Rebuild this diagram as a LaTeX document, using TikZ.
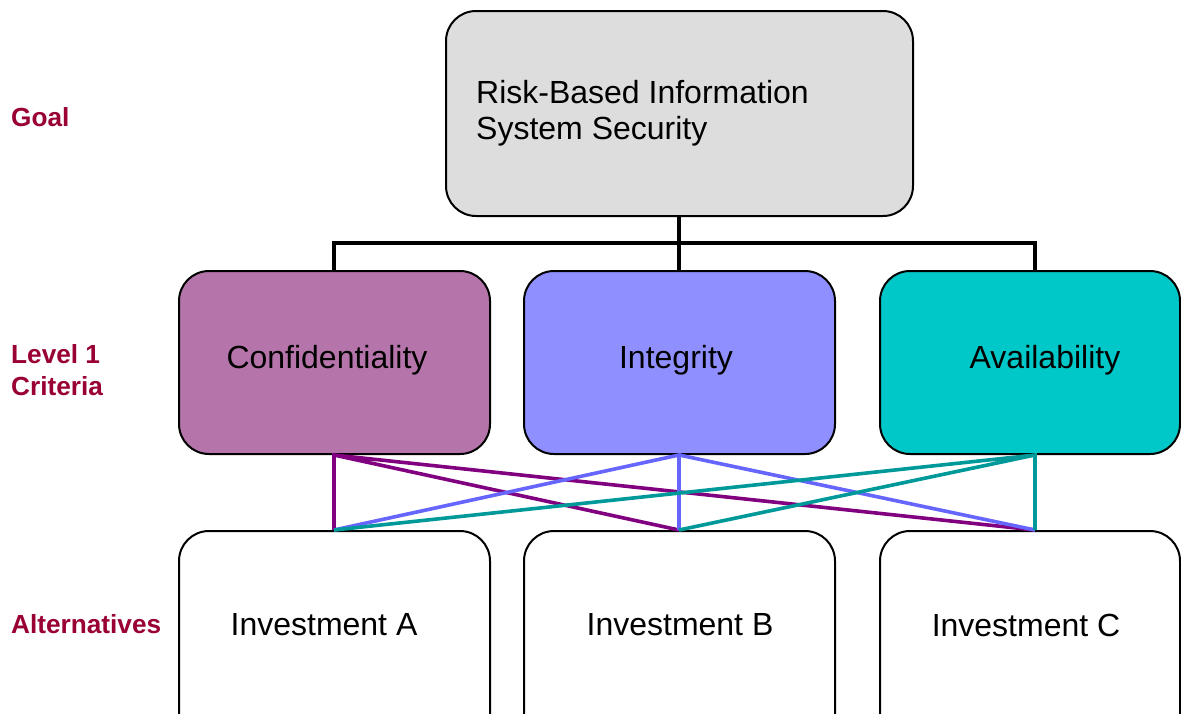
\documentclass[tikz,border=0pt]{standalone}
\usepackage{fontspec}
\setmainfont{Liberation Sans}
\definecolor{lblred}{HTML}{990033}
\definecolor{goalfill}{HTML}{DDDDDD}
\definecolor{conffill}{HTML}{B675AA}
\definecolor{intfill}{HTML}{8F8FFF}
\definecolor{avfill}{HTML}{00C8C8}
\definecolor{cpurple}{HTML}{800080}
\definecolor{cblue}{HTML}{6666FF}
\definecolor{cteal}{HTML}{009999}
\tikzset{
  boxshape/.style={draw=black, line width=2pt, rounded corners=30pt, inner sep=0pt},
  boxtext/.style={inner sep=0pt, font=\fontsize{32}{36}\selectfont},
  sidelabel/.style={anchor=west, inner sep=0pt, align=left, text=lblred, font=\fontsize{26.2}{32}\selectfont\bfseries},
  treeline/.style={line width=3.5pt, black},
  crossline/.style={line width=3.6pt},
}
\begin{document}
\begin{tikzpicture}[x=1pt,y=-1pt]
\useasboundingbox (0,0) rectangle (1181,713);
\clip (0,0) rectangle (1181,713);
% boxes
\node[boxshape, fill=goalfill, minimum width=467pt, minimum height=205pt] (goal) at (679.5,113.5) {};
\node[boxtext, anchor=west, align=left] (goaltext) at (476,113) {Risk-Based Information\\System Security};
\node[boxshape, fill=conffill, minimum width=311pt, minimum height=183pt] (conf) at (334.5,362.5) {};
\node[boxshape, fill=intfill, minimum width=311pt, minimum height=183pt] (integ) at (679.5,362.5) {};
\node[boxshape, fill=avfill, minimum width=300pt, minimum height=183pt] (avail) at (1030,362.5) {};
\node[boxtext] (conftext) at (327,360) {Confidentiality};
\node[boxtext] (integtext) at (676,360) {Integrity};
\node[boxtext] (availtext) at (1045,360) {Availability};
\node[boxshape, fill=white, minimum width=311pt, minimum height=214pt] (invA) at (334.5,638) {};
\node[boxshape, fill=white, minimum width=311pt, minimum height=214pt] (invB) at (679.5,638) {};
\node[boxshape, fill=white, minimum width=300pt, minimum height=214pt] (invC) at (1030,638) {};
\node[boxtext] (invAtext) at (324,625) {Investment A};
\node[boxtext] (invBtext) at (680,625) {Investment B};
\node[boxtext] (invCtext) at (1026,625) {Investment C};
% side labels
\node[sidelabel] (lgoal) at (11,117) {Goal};
\node[sidelabel] (llevel) at (11,370) {Level 1\\Criteria};
\node[sidelabel] (lalt) at (11,624) {Alternatives};
% tree
\coordinate (jn) at (679,243);
\coordinate (t1) at (334,271);
\coordinate (t2) at (679,271);
\coordinate (t3) at (1035,271);
\draw[treeline] (goal.south -| jn) -- (jn);
\draw[treeline] (t1) |- (jn) -| (t3);
\draw[treeline] (jn) -- (t2);
% crossing connectors
\coordinate (ct1) at (334,455);
\coordinate (ct2) at (679,455);
\coordinate (ct3) at (1035,455);
\coordinate (cb1) at (334,530);
\coordinate (cb2) at (679,530);
\coordinate (cb3) at (1035,530);
\draw[crossline, cpurple] (cb1) -- (ct1) -- (cb2) (ct1) -- (cb3);
\draw[crossline, cblue] (cb2) -- (ct2) -- (cb1) (ct2) -- (cb3);
\draw[crossline, cteal] (cb3) -- (ct3) -- (cb1) (ct3) -- (cb2);
\end{tikzpicture}
\end{document}
